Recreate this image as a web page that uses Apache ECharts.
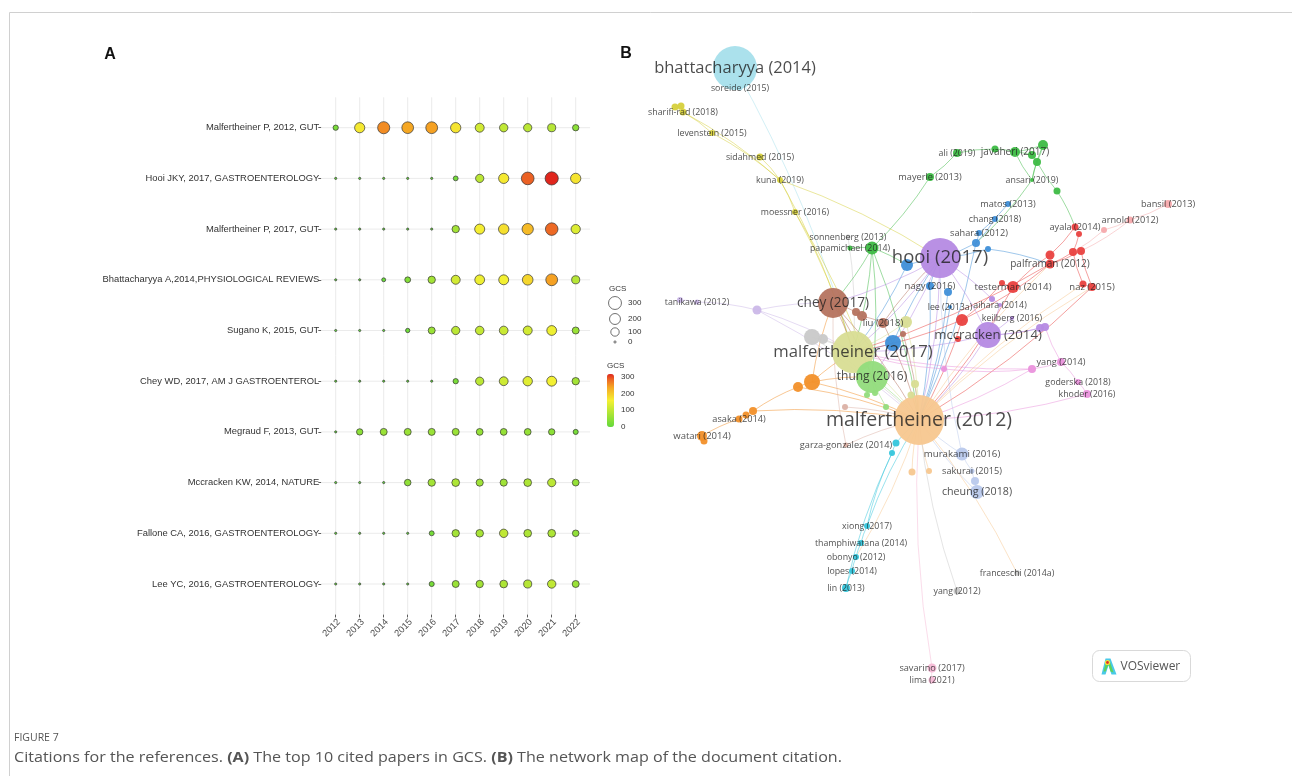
<!DOCTYPE html>
<html><head><meta charset="utf-8">
<script src="https://cdn.jsdelivr.net/npm/echarts@6/dist/echarts.min.js"></script>
<style>html,body{margin:0;padding:0;background:#fff}#c{width:1292px;height:776px}</style>
</head><body><div id="c"></div>
<script>
// ---------------- DATA: panel A ----------------
const years = ['2012','2013','2014','2015','2016','2017','2018','2019','2020','2021','2022'];
const papers = ['Malfertheiner P, 2012, GUT','Hooi JKY, 2017, GASTROENTEROLOGY','Malfertheiner P, 2017, GUT','Bhattacharyya A,2014,PHYSIOLOGICAL REVIEWS','Sugano K, 2015, GUT','Chey WD, 2017, AM J GASTROENTEROL','Megraud F, 2013, GUT','Mccracken KW, 2014, NATURE','Fallone CA, 2016, GASTROENTEROLOGY','Lee YC, 2016, GASTROENTEROLOGY'];
const gcsMalfertheiner2012 = [25, 165, 255, 235, 240, 170, 120, 100, 95, 90, 45];
const gcsHooi2017          = [0, 0, 0, 0, 0, 18, 95, 165, 285, 315, 170];
const gcsMalfertheiner2017 = [0, 0, 0, 0, 0, 70, 160, 175, 215, 280, 130];
const gcsBhattacharyya2014 = [0, 0, 8, 35, 70, 120, 150, 155, 185, 240, 90];
const gcsSugano2015        = [0, 0, 0, 12, 60, 95, 105, 110, 120, 150, 60];
const gcsChey2017          = [0, 0, 0, 0, 0, 25, 95, 115, 135, 155, 70];
const gcsMegraud2013       = [0, 45, 60, 60, 60, 60, 55, 55, 55, 45, 22];
const gcsMccracken2014     = [0, 0, 0, 50, 70, 80, 65, 65, 80, 95, 55];
const gcsFallone2016       = [0, 0, 0, 0, 20, 70, 75, 100, 80, 80, 50];
const gcsLee2016           = [0, 0, 0, 0, 22, 60, 70, 80, 90, 100, 60];
const gcsRows = [gcsMalfertheiner2012, gcsHooi2017, gcsMalfertheiner2017, gcsBhattacharyya2014, gcsSugano2015, gcsChey2017, gcsMegraud2013, gcsMccracken2014, gcsFallone2016, gcsLee2016];
const sizeLegendValues = [300, 200, 100, 0];
const colorLegendTicks = [300, 200, 100, 0];
const gcsMin = 0, gcsMax = 315;

// ---------------- DATA: panel B (VOSviewer map coordinates) ----------------
// [id, label, mapX, mapY, weight, cluster, labelSize]
const netNodes = [
 ['B','bhattacharyya (2014)',11.5,2.8,44,'cyanL',16.5],
 ['soreide','soreide (2015)',12.0,4.8,5,'cyanL',8.8],
 ['s1','',5.5,6.7,7,'yellow'],
 ['s2','',6.1,6.6,7,'yellow'],
 ['sharifi','sharifi-rad (2018)',6.3,7.2,7,'yellow',8.8],
 ['leven','levenstein (2015)',9.2,9.3,6,'yellow',8.8],
 ['sidah','sidahmed (2015)',14.0,11.7,7,'yellow',8.8],
 ['kuna','kuna (2019)',16.0,14.0,6,'yellow',8.8],
 ['moess','moessner (2016)',17.5,17.2,6,'yellow',8.8],
 ['sonn','sonnenberg (2013)',22.8,19.7,5,'gray',8.8],
 ['papa','papamichael (2014)',23.0,20.8,5,'green',8.8],
 ['g1','',25.2,20.8,13,'green'],
 ['mayerle','mayerle (2013)',31.0,13.7,8,'green',9.2],
 ['ali','ali (2019)',33.7,11.3,8,'green',8.8],
 ['jav','javaheri (2017)',39.5,11.2,10,'green',10],
 ['g2','',37.5,10.9,7,'green'],
 ['g3','',41.2,11.5,8,'green'],
 ['g4','',41.7,12.2,8,'green'],
 ['g5','',42.3,10.5,10,'green'],
 ['ansari','ansari (2019)',41.2,14.0,4,'green',8.8],
 ['g6','',43.7,15.1,7,'green'],
 ['matos','matos (2013)',38.8,16.4,6,'blue',9.2],
 ['chang','chang (2018)',37.5,17.9,6,'blue',8.8],
 ['sahara','sahara (2012)',35.9,19.3,6,'blue',9.2],
 ['b1','',35.6,20.3,8,'blue'],
 ['b2','',36.8,20.9,6,'blue'],
 ['bansil','bansil (2013)',54.8,16.4,8,'pinkL',9.2],
 ['arnold','arnold (2012)',51.0,18.0,7,'pinkL',9.2],
 ['p1','',48.4,19.0,6,'pinkL'],
 ['ayala','ayala (2014)',45.5,18.7,7,'red',9.2],
 ['r1','',45.9,19.4,6,'red'],
 ['palf','palframan (2012)',43.0,22.4,9,'red',10],
 ['r2','',43.0,21.5,9,'red'],
 ['r3','',45.3,21.2,8,'red'],
 ['r4','',46.1,21.1,8,'red'],
 ['test','testerman (2014)',39.3,24.7,12,'red',9.7],
 ['r5','',38.2,24.3,6,'red'],
 ['naz','naz (2015)',47.2,24.7,8,'red',9.5],
 ['r6','',46.3,24.4,7,'red'],
 ['aihara','aihara (2014)',38.0,26.5,4,'purple',8.8],
 ['pu1','',37.2,25.9,6,'purple'],
 ['keil','keilberg (2016)',39.2,27.8,4,'purple',8.8],
 ['H','hooi (2017)',32.0,21.8,40,'purple',18.5],
 ['b3','',28.7,22.5,12,'blue'],
 ['nagy','nagy (2016)',31.0,24.6,8,'blue',9.5],
 ['b4','',32.8,25.2,8,'blue'],
 ['lee','lee (2013a)',33.0,26.7,4,'blue',8.8],
 ['r7','',34.2,28.0,12,'red'],
 ['r8','',33.8,29.9,6,'red'],
 ['Mc','mccracken (2014)',36.8,29.5,26,'purple',13.2],
 ['pu2','',42.0,28.8,8,'purple'],
 ['pu3','',42.5,28.7,8,'purple'],
 ['tani','tanikawa (2012)',7.7,26.2,5,'lavL',8.8],
 ['l1','',6.0,26.0,6,'lavL'],
 ['l2','',13.7,27.0,9,'lavL'],
 ['C','chey (2017)',21.3,26.3,30,'brown',13.6],
 ['br1','',23.6,27.2,8,'brown'],
 ['br2','',24.2,27.6,10,'brown'],
 ['liu','liu (2018)',26.3,28.3,10,'brown',9.5],
 ['kh1','',28.6,28.2,12,'khaki'],
 ['br3','',28.3,29.4,6,'brown'],
 ['gr1','',19.2,29.7,16,'gray'],
 ['gr2','',20.3,29.9,10,'gray'],
 ['M17','malfertheiner (2017)',23.3,31.2,42,'khaki',16.7],
 ['b5','',27.3,30.3,16,'blue'],
 ['T','thung (2016)',25.2,33.7,32,'lgreen',12],
 ['lg1','',24.7,35.5,6,'lgreen'],
 ['lg2','',25.5,35.3,6,'lgreen'],
 ['lg3','',26.6,36.7,6,'lgreen'],
 ['kh2','',29.5,34.4,8,'khaki'],
 ['kh3','',29.1,35.5,7,'khaki'],
 ['o1','',19.2,34.2,16,'orange'],
 ['o2','',17.8,34.7,10,'orange'],
 ['o3','',13.3,37.1,8,'orange'],
 ['o4','',12.6,37.5,7,'orange'],
 ['asaka','asaka (2014)',11.9,37.9,7,'orange',9.2],
 ['watari','watari (2014)',8.2,39.6,10,'orange',9.5],
 ['o5','',8.4,40.1,7,'orange'],
 ['pb1','',22.5,36.7,6,'pb'],
 ['M12','malfertheiner (2012)',29.9,38.0,50,'peach',19.5],
 ['garza','garza-gonzalez (2014)',22.6,40.5,5,'pb',9.2],
 ['c1','',27.6,40.3,7,'cyan'],
 ['c2','',27.2,41.3,6,'cyan'],
 ['mura','murakami (2016)',34.2,41.4,13,'lav',9.7],
 ['pk1','',29.2,43.2,7,'peach'],
 ['pk2','',30.9,43.1,6,'peach'],
 ['sakurai','sakurai (2015)',35.2,43.1,5,'lav',9.2],
 ['lv1','',35.5,44.1,8,'lav'],
 ['cheung','cheung (2018)',35.7,45.2,14,'lav',10.7],
 ['xiong','xiong (2017)',24.7,48.6,6,'cyan',8.8],
 ['tham','thamphiwatana (2014)',24.1,50.3,6,'cyan',8.8],
 ['obonyo','obonyo (2012)',23.6,51.7,6,'cyan',8.8],
 ['lopes','lopes (2014)',23.2,53.1,6,'cyan',8.8],
 ['lin','lin (2013)',22.6,54.8,8,'cyan',8.8],
 ['fran','franceschi (2014a)',39.7,53.3,6,'gray',8.8],
 ['yang12','yang (2012)',33.7,55.1,7,'gray',8.8],
 ['sava','savarino (2017)',31.2,62.8,9,'pinkS',9.2],
 ['lima','lima (2021)',31.2,64.0,7,'pinkS',8.8],
 ['yang14','yang (2014)',44.1,32.2,8,'magenta',9.2],
 ['m1','',41.2,32.9,8,'magenta'],
 ['m2','',32.4,32.9,6,'magenta'],
 ['gode','goderska (2018)',45.8,34.2,6,'magenta',8.8],
 ['khoder','khoder (2016)',46.7,35.4,8,'magenta',8.8]
];
const netLinks = [
 ['B','M17'],['B','soreide'],
 ['sharifi','kuna'],['s1','sharifi'],['s2','sharifi'],['leven','kuna'],['sidah','kuna'],['kuna','moess'],['kuna','M17'],['moess','M17'],['moess','T'],['sharifi','leven'],['kuna','H'],
 ['sonn','M17'],
 ['ali','mayerle'],['mayerle','g1'],['ali','g2'],['g2','jav'],['jav','g3'],['g3','g4'],['g5','g4'],['g5','jav'],['ansari','jav'],['ansari','g4'],['ansari','g5'],['g6','g4'],['g6','ayala'],['ansari','b1'],
 ['g1','M17'],['g1','T'],['g1','M12'],['g1','C'],['g1','b3'],['papa','g1'],
 ['matos','sahara'],['chang','b1'],['sahara','b1'],['b1','H'],['b2','H'],['b3','H'],['b3','M17'],['nagy','M12'],['b4','M12'],['b5','M17'],['b5','H'],['lee','M12'],['b1','M12'],['b2','palf'],['nagy','H'],
 ['ayala','r2'],['r1','r3'],['r3','palf'],['r4','palf'],['naz','r4'],['naz','r6'],['r6','r3'],['arnold','r4'],['bansil','arnold'],['arnold','p1'],['p1','r3'],['test','r2'],['test','r5'],['r5','r7'],['r7','M12'],['test','M12'],['naz','M12'],['palf','r7'],['r7','M17'],['palf','M17'],
 ['aihara','Mc'],['keil','Mc'],['pu2','Mc'],['pu3','Mc'],['Mc','M12'],['Mc','M17'],['H','Mc'],['H','M17'],['H','M12'],['H','C'],['H','T'],['pu1','aihara'],['H','pu1'],
 ['tani','l2'],['l1','tani'],['l2','M17'],['l2','C'],['l2','M12'],
 ['C','br1'],['br1','br2'],['br2','liu'],['liu','M12'],['C','M17'],['C','M12'],['C','T'],['br3','M12'],['liu','H'],
 ['kh1','M17'],['kh1','M12'],['kh2','M12'],['kh3','M12'],['M17','M12'],['M17','T'],
 ['gr1','M17'],['gr2','M17'],['gr1','M12'],
 ['T','M12'],['lg1','T'],['lg2','T'],['lg3','T'],
 ['watari','asaka'],['o5','watari'],['asaka','o4'],['o4','o3'],['o3','o2'],['o2','o1'],['o1','M17'],['o1','M12'],['o1','T'],['o2','M12'],['o1','C'],['o3','M12'],
 ['pb1','M12'],['garza','M12'],['garza','C'],
 ['lin','lopes'],['lopes','obonyo'],['obonyo','tham'],['tham','xiong'],['xiong','c2'],['c2','c1'],['c1','M12'],['lin','c2'],['xiong','M12'],
 ['cheung','lv1'],['lv1','sakurai'],['sakurai','mura'],['mura','M12'],['mura','H'],['cheung','M12'],
 ['pk1','M12'],['pk2','M12'],['M12','naz'],['M12','palf'],['M12','fran'],['M12','obonyo'],['M12','r6'],
 ['yang12','M12'],['sava','M12'],['lima','sava'],
 ['yang14','gode'],['gode','khoder'],['yang14','m1'],['m1','m2'],['m2','M17'],['khoder','M12'],['m1','M12'],['yang14','pu3'],['m1','M17']
];

// ---------------- STYLES ----------------
const gcsColorStops = [[0, '#62d93a'], [0.5, '#f5f032'], [0.75, '#f5a623'], [0.9, '#ec6424'], [1, '#e0261d']];
function buildRamp(stops, n) {
 const out = [];
 for (let k = 0; k <= n; k++) {
  const t = k / n;
  let i = 0;
  while (i < stops.length - 2 && t > stops[i + 1][0]) i++;
  const t0 = stops[i][0], t1 = stops[i + 1][0];
  out.push(echarts.color.lerp((t - t0) / (t1 - t0), [stops[i][1], stops[i + 1][1]]));
 }
 return out;
}
const gcsColors = buildRamp(gcsColorStops, 40);
const clusterColor = {
 cyanL:'#a6dfeb', yellow:'#d6d03c', green:'#3dba45', blue:'#3f8fd8', red:'#e9413f', pinkL:'#f5a9ac',
 purple:'#b58ae3', lavL:'#cbb8e8', brown:'#b5735f', khaki:'#d8dd93', lgreen:'#92dc7c', orange:'#f2902a',
 peach:'#f7c78f', gray:'#c9c9c9', pb:'#dbb1a5', cyan:'#35c6dc', lav:'#b9c9ec', pinkS:'#f6b9d6', magenta:'#ea92dc'
};
const fontA = 'Liberation Sans, Arial, sans-serif';
const fontB = 'Open Sans, sans-serif';

// ---------------- LAYOUT ----------------
const PA = {left: 335.7, top: 127.7, width: 240, height: 456.3, exp: 0.6};
const stepX = PA.width / (years.length - 1);
const stepY = PA.height / (papers.length - 1);
const panel = {
 left: PA.left - PA.exp * stepX, top: PA.top - PA.exp * stepY,
 width: PA.width + 2 * PA.exp * stepX, height: PA.height + 2 * PA.exp * stepY
};
const gcsSize = v => 2.2 + 0.62 * Math.sqrt(v);
const bar = {left: 607, top: 374, width: 7, height: 53};

const bubbleData = [];
gcsRows.forEach((row, r) => row.forEach((v, c) => bubbleData.push([c, r, v])));

const nodeById = {};
netNodes.forEach(n => nodeById[n[0]] = n);
const graphNodes = netNodes.slice().sort((a, b) => b[4] - a[4]).map(n => ({
 id: n[0], name: n[1] || n[0], value: [n[2], n[3]], symbolSize: n[4],
 itemStyle: {color: clusterColor[n[5]]}
}));
const graphLinks = netLinks.map(([s, t]) => ({
 source: s, target: t, lineStyle: {color: clusterColor[nodeById[s][5]]}
}));
const labelData = netNodes.filter(n => n[1]).map(n => ({
 name: n[1], value: [n[2], n[3]], label: {fontSize: n[6]}
}));

const gridLineItem = (vertical) => (params, api) => {
 const i = api.value(vertical ? 0 : 1);
 let a, b;
 if (vertical) { a = api.coord([i, -PA.exp]); b = api.coord([i, papers.length - 1 + PA.exp]); }
 else { a = api.coord([-PA.exp, i]); b = api.coord([years.length - 1 + PA.exp, i]); }
 return {type: 'line', shape: {x1: a[0], y1: a[1], x2: b[0], y2: b[1]}, style: {stroke: '#ebebeb', lineWidth: 1}, silent: true};
};

// legend graphics
const legendEls = [];
legendEls.push({type: 'text', style: {x: 609, y: 289, text: 'GCS', fill: '#333', fontSize: 8, fontFamily: fontA, verticalAlign: 'middle'}});
const sizeLegendY = [303, 319, 332, 342];
sizeLegendValues.forEach((v, i) => {
 legendEls.push({type: 'circle', shape: {cx: 615, cy: sizeLegendY[i], r: gcsSize(v) / 2}, style: {fill: '#fff', stroke: '#333', lineWidth: 0.7}});
 legendEls.push({type: 'text', style: {x: 628, y: sizeLegendY[i], text: String(v), fill: '#333', fontSize: 8, fontFamily: fontA, verticalAlign: 'middle'}});
});
legendEls.push({type: 'text', style: {x: 607, y: 366, text: 'GCS', fill: '#333', fontSize: 8, fontFamily: fontA, verticalAlign: 'middle'}});
colorLegendTicks.forEach(v => {
 const y = bar.top + bar.height * (1 - (v - gcsMin) / (gcsMax - gcsMin));
 legendEls.push({type: 'text', style: {x: 621, y: y, text: String(v), fill: '#333', fontSize: 8, fontFamily: fontA, verticalAlign: 'middle'}});
});

const chart = echarts.init(document.getElementById('c'), null, {renderer: 'canvas'});
chart.setOption({
 animation: false,
 backgroundColor: '#fff',
 grid: [
  {left: panel.left, top: panel.top, width: panel.width, height: panel.height, outerBoundsMode: 'none'},
  {left: PA.left, top: PA.top, width: PA.width, height: PA.height, outerBoundsMode: 'none'},
  {left: 620, top: 40, width: 620, height: 660, outerBoundsMode: 'none'}
 ],
 xAxis: [
  {gridIndex: 0, type: 'value', min: -PA.exp, max: years.length - 1 + PA.exp, show: false},
  {gridIndex: 1, type: 'category', data: years, boundaryGap: false, offset: PA.exp * stepY,
   axisLine: {show: false}, axisTick: {show: true, length: 3, lineStyle: {color: '#333', width: 0.8}},
   axisLabel: {rotate: 45, interval: 0, fontSize: 9.3, color: '#4d4d4d', margin: 3, fontFamily: fontA,
     verticalAlign: 'top', overflow: 'none', width: 200, hideOverlap: false},
   splitLine: {show: false}},
  {gridIndex: 2, type: 'value', min: 0, max: 62, show: false}
 ],
 yAxis: [
  {gridIndex: 0, type: 'value', min: -PA.exp, max: papers.length - 1 + PA.exp, inverse: true, show: false},
  {gridIndex: 1, type: 'category', data: papers, inverse: true, boundaryGap: false, offset: PA.exp * stepX,
   axisLine: {show: false}, axisTick: {show: true, length: 3, lineStyle: {color: '#333', width: 0.8}},
   axisLabel: {interval: 0, fontSize: 9.4, color: '#333', margin: 2, fontFamily: fontA, overflow: 'none', width: 400},
   splitLine: {show: false}},
  {gridIndex: 2, type: 'value', min: 0, max: 66, inverse: true, show: false}
 ],
 visualMap: {
  type: 'continuous', seriesIndex: 2, dimension: 2, min: gcsMin, max: gcsMax,
  inRange: {color: gcsColors}, calculable: false, hoverLink: false,
  left: bar.left, top: bar.top, itemWidth: bar.width, itemHeight: bar.height, padding: 0
 },
 series: [
  {type: 'custom', xAxisIndex: 0, yAxisIndex: 0, data: years.map((_, i) => [i, 0]), renderItem: gridLineItem(true), silent: true, z: 1},
  {type: 'custom', xAxisIndex: 0, yAxisIndex: 0, data: papers.map((_, j) => [0, j]), renderItem: gridLineItem(false), silent: true, z: 1},
  {type: 'scatter', xAxisIndex: 1, yAxisIndex: 1, data: bubbleData,
   symbolSize: v => gcsSize(v[2]), itemStyle: {borderColor: '#333', borderWidth: 0.7, opacity: 1}, silent: true, z: 3},
  {type: 'graph', coordinateSystem: 'cartesian2d', xAxisIndex: 2, yAxisIndex: 2, layout: 'none',
   data: graphNodes, links: graphLinks, silent: true, z: 2,
   itemStyle: {opacity: 0.95},
   lineStyle: {width: 1, opacity: 0.5, curveness: 0.06},
   label: {show: false}, emphasis: {disabled: true}},
  {type: 'scatter', xAxisIndex: 2, yAxisIndex: 2, data: labelData, symbolSize: 0.1,
   itemStyle: {color: 'rgba(0,0,0,0)'}, silent: true, z: 5,
   label: {show: true, position: 'inside', formatter: p => p.name, color: '#1e1e1e', fontFamily: fontB}}
 ],
 graphic: [
  {type: 'line', shape: {x1: 9.5, y1: 12.5, x2: 1292, y2: 12.5}, style: {stroke: '#d0d0d0', lineWidth: 1}},
  {type: 'line', shape: {x1: 9.5, y1: 12.5, x2: 9.5, y2: 776}, style: {stroke: '#d0d0d0', lineWidth: 1}},
  {type: 'text', style: {x: 110, y: 55, text: 'A', fill: '#111', fontSize: 16, fontWeight: 'bold', fontFamily: fontA, align: 'center', verticalAlign: 'middle'}},
  {type: 'text', style: {x: 626, y: 54, text: 'B', fill: '#111', fontSize: 16, fontWeight: 'bold', fontFamily: fontA, align: 'center', verticalAlign: 'middle'}},
  ...legendEls,
  {type: 'group', left: 1092, top: 650, children: [
   {type: 'rect', shape: {x: 0, y: 0, width: 98, height: 31, r: 7}, style: {fill: '#fff', stroke: '#d9d9d9', lineWidth: 1}},
   {type: 'polygon', shape: {points: [[9,24],[13,8],[18,8],[24,24],[19,24],[16,15],[13,24]]}, style: {fill: '#49c9e8'}},
   {type: 'polygon', shape: {points: [[11,21],[14,10],[17,10],[21,22],[18,21],[16,14],[13,21]]}, style: {fill: '#5fd35a'}},
   {type: 'circle', shape: {cx: 15, cy: 12, r: 2.6}, style: {fill: '#f4e43a'}},
   {type: 'circle', shape: {cx: 15, cy: 12, r: 1.4}, style: {fill: '#e2312a'}},
   {type: 'text', style: {x: 28, y: 16, text: 'VOSviewer', fill: '#555', fontSize: 12, fontFamily: fontB, verticalAlign: 'middle'}}
  ]},
  {type: 'text', style: {x: 14, y: 738, text: 'FIGURE 7', fill: '#555', fontSize: 10.5, fontFamily: fontB, verticalAlign: 'middle'}},
  {type: 'text', x: 14, y: 758, scaleX: 1.11, style: {x: 0, y: 0, fill: '#555', fontSize: 14.5, fontFamily: fontB, verticalAlign: 'middle',
   text: '{n|Citations for the references. }{b|(A)}{n| The top 10 cited papers in GCS. }{b|(B)}{n| The network map of the document citation.}',
   rich: {n: {fontSize: 14.5, fontFamily: fontB, fill: '#555'}, b: {fontSize: 14.5, fontFamily: fontB, fontWeight: 'bold', fill: '#555'}}}}
 ]
});
</script></body></html>
